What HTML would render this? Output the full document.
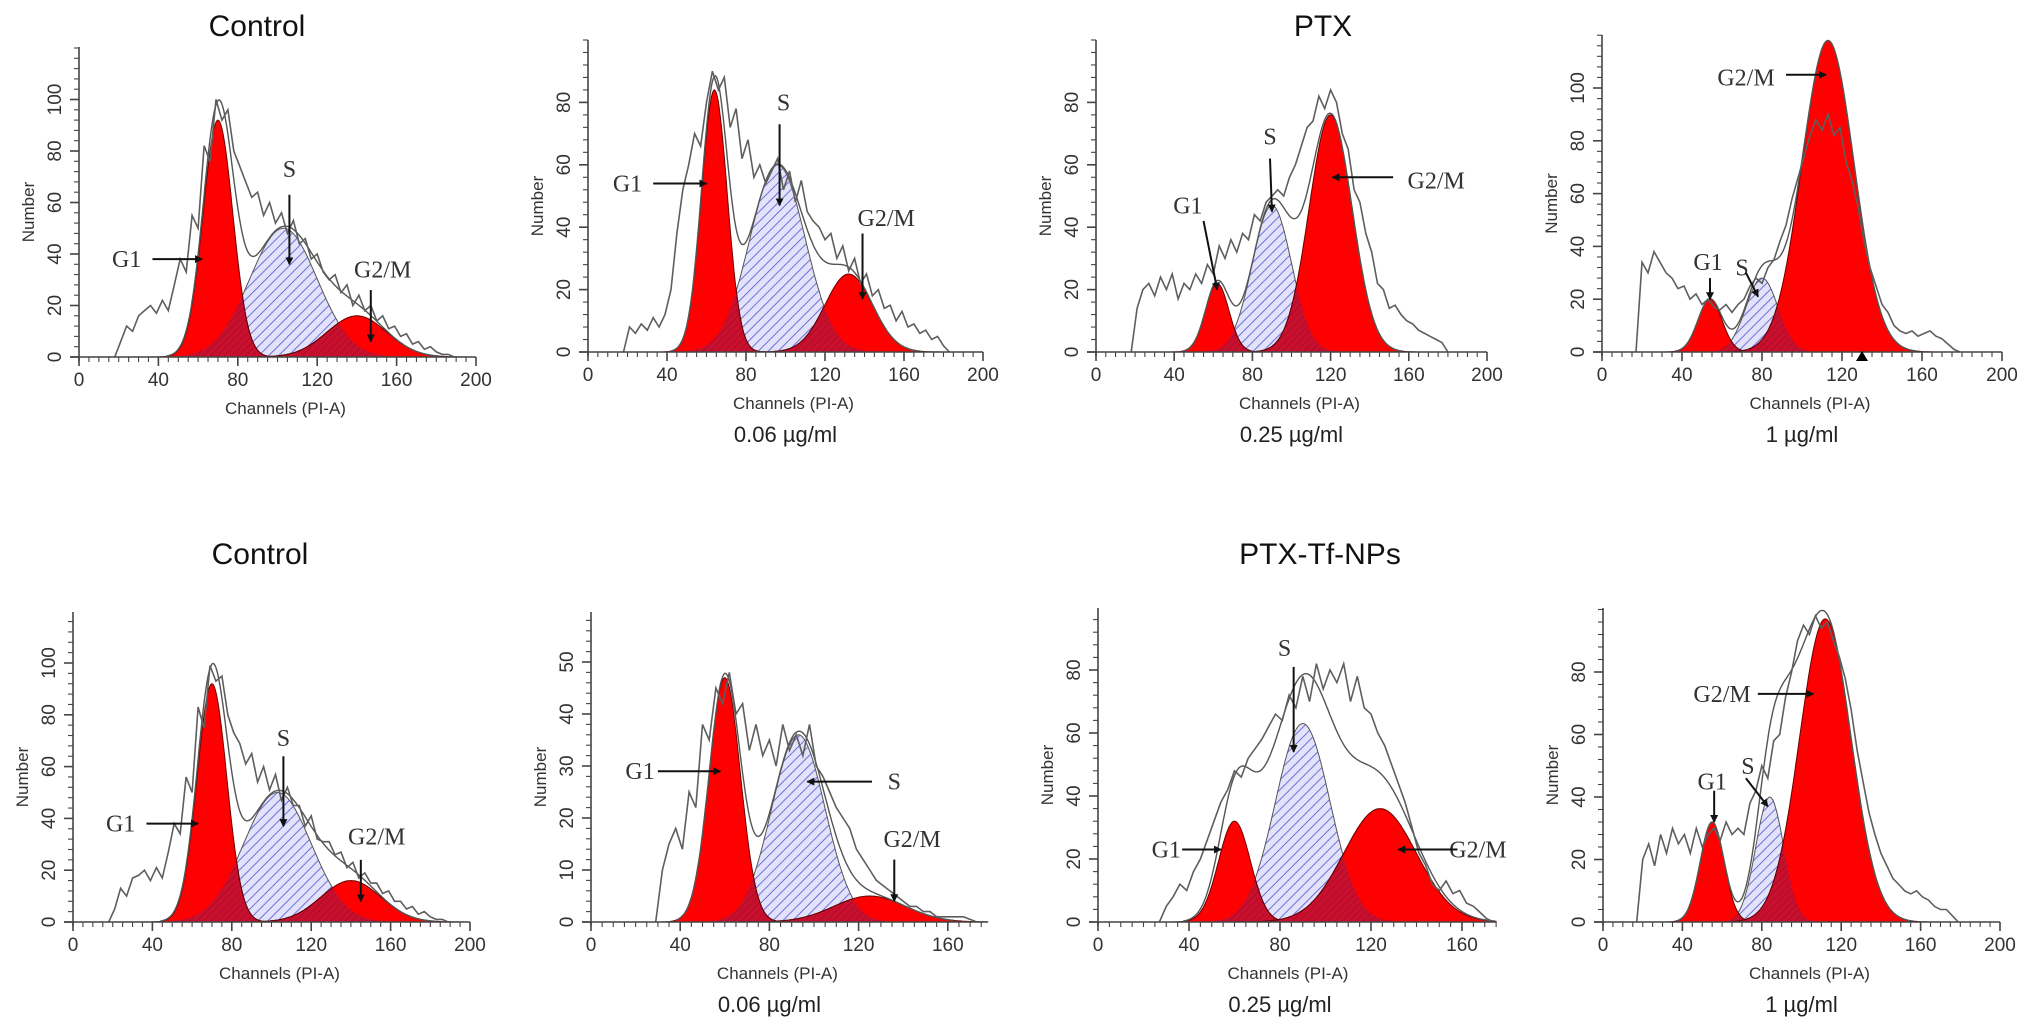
<!DOCTYPE html>
<html><head><meta charset="utf-8"><title>Cell cycle histograms</title>
<style>
html,body{margin:0;padding:0;background:#fff;}
svg{display:block;}
.tick{font-family:"Liberation Sans",sans-serif;font-size:19px;fill:#333;}
.axt{font-family:"Liberation Sans",sans-serif;font-size:17px;fill:#333;}
.sub{font-family:"Liberation Sans",sans-serif;font-size:22px;fill:#222;}
.ttl{font-family:"Liberation Sans",sans-serif;font-size:30px;fill:#111;}
.ann{font-family:"Liberation Serif",serif;font-size:24px;fill:#333;}
</style></head>
<body>
<svg id="fig" width="2031" height="1028" viewBox="0 0 2031 1028" xmlns="http://www.w3.org/2000/svg">
<defs>
<pattern id="hatchS" patternUnits="userSpaceOnUse" width="7" height="7" patternTransform="rotate(45)">
<rect width="7" height="7" fill="#e2e2fa"/><line x1="0" y1="0" x2="0" y2="7" stroke="#6f6fd8" stroke-width="2"/></pattern>
<pattern id="hatchR" patternUnits="userSpaceOnUse" width="5" height="5" patternTransform="rotate(45)">
<rect width="5" height="5" fill="#c8102e"/><line x1="0" y1="0" x2="0" y2="5" stroke="#a00826" stroke-width="1.2"/></pattern>
<marker id="arr" markerWidth="8" markerHeight="8" refX="7" refY="4" orient="auto" markerUnits="userSpaceOnUse">
<path d="M0,0 L8,4 L0,8 z" fill="#111"/></marker>
</defs>
<text class="ttl" x="257" y="36" text-anchor="middle">Control</text>
<text class="ttl" x="1323" y="36" text-anchor="middle">PTX</text>
<text class="ttl" x="260" y="564" text-anchor="middle">Control</text>
<text class="ttl" x="1320" y="564" text-anchor="middle">PTX-Tf-NPs</text>
</svg>
<script>
// ---- Data ----
const histStep = 3;
const p1HistStart = 18;
const p1Hist = [0,6,12,10,16,18,20,17,22,18,28,38,33,55,50,82,76,100,92,96,80,74,68,62,64,55,60,52,56,48,53,44,46,38,40,33,30,32,25,28,20,24,18,20,14,16,11,12,8,9,5,6,3,4,2,1,1,0];
const p1Phases = [[70,7.5,92],[103,17,50],[140,15,16]];
const p2HistStart = 18;
const p2Hist = [0,8,6,9,7,11,8,12,20,38,52,60,70,66,80,90,84,88,72,78,62,68,56,60,54,58,62,52,58,48,55,45,42,40,36,38,30,34,26,30,22,25,18,20,14,15,10,13,8,9,6,7,4,5,2,0];
const p2Phases = [[64,6.5,84],[96,14,60],[132,12,25]];
const p3HistStart = 18;
const p3Hist = [0,14,20,22,18,24,20,25,17,22,20,25,22,28,25,34,30,36,32,38,36,44,42,48,50,52,50,56,60,66,72,74,82,78,84,80,70,65,52,48,38,32,22,20,14,15,12,10,9,7,6,5,4,3,0];
const p3Phases = [[62,6,22],[90,10,47],[120,11,76]];
const p4HistStart = 17;
const p4Hist = [0,34,30,38,34,30,28,24,25,20,22,18,20,17,16,18,15,18,20,25,28,26,32,35,42,48,58,66,74,82,88,84,90,82,85,72,65,55,42,32,25,18,15,10,8,7,8,6,7,8,6,5,3,1,0];
const p4Phases = [[54,6,20],[80,8,28],[113,13,118]];
const p5HistStart = 18;
const p5Hist = [0,5,13,10,17,18,20,16,21,17,27,38,34,56,50,83,75,99,93,95,80,73,69,61,65,54,60,51,57,47,52,45,45,37,41,32,31,31,26,27,21,23,17,19,15,15,11,12,8,8,5,6,3,4,2,1,1,0];
const p5Phases = [[70,7.5,92],[103,17,50],[140,15,16]];
const p6HistStart = 29;
const p6Hist = [0,10,15,18,14,25,22,38,35,45,42,48,40,42,33,38,32,35,30,38,33,36,32,38,30,28,25,22,20,18,14,12,10,8,7,6,5,4,3,3,2,2,1,1,1,1,1,0.5,0];
const p6Phases = [[60,7,47],[93,12,36],[125,16,5]];
const p7HistStart = 27;
const p7Hist = [0,5,8,12,10,16,20,26,32,38,42,48,46,52,55,58,62,66,64,72,68,78,70,82,74,80,76,82,70,78,68,66,60,56,50,44,38,30,22,18,12,10,13,9,10,6,5,3,1,0];
const p7Phases = [[60,7,32],[90,12,63],[124,16,36]];
const p7Extra = [[108,20,14],[70,10,18]];
const p8HistStart = 17;
const p8Hist = [0,20,25,18,28,22,30,25,28,22,30,24,28,30,26,32,28,30,28,38,42,50,46,58,60,72,80,90,95,92,98,94,96,90,85,78,68,55,45,35,28,22,18,14,12,10,9,10,8,7,5,4,4,2,0];
const p8Phases = [[55,6,32],[84,7,40],[112,13,97]];
const p8Extra = [[94,8,28]];
const xTicks200 = [0,40,80,120,160,200];
const xTicks160 = [0,40,80,120,160];
const yTicks100 = [0,20,40,60,80,100];
const yTicks80 = [0,20,40,60,80];
const yTicks50 = [0,10,20,30,40,50];
const subLabels = ["0.06 µg/ml","0.25 µg/ml","1 µg/ml"];

// ---- Layout (pixel geometry, not data) ----
const panels = [
 {n:1,ax:79, xs:1.985,y0:357,ys:2.575,top:47, xMax:200,xT:xTicks200,yT:yTicks100,yMinor:4,hist:p1Hist,hs:p1HistStart,ph:p1Phases,ex:[],sub:null,
  ann:[["G1",24,38,37,38,62,38],["S",106,73,106,63,106,36],["G2/M",153,34,147,26,147,6]]},
 {n:2,ax:588,xs:1.975,y0:352,ys:3.12,top:40, xMax:200,xT:xTicks200,yT:yTicks80,yMinor:4,hist:p2Hist,hs:p2HistStart,ph:p2Phases,ex:[],sub:subLabels[0],
  ann:[["G1",20,54,33,54,60,54],["S",99,80,97,73,97,47],["G2/M",151,43,139,38,139,17]]},
 {n:3,ax:1096,xs:1.955,y0:352,ys:3.12,top:40,xMax:200,xT:xTicks200,yT:yTicks80,yMinor:4,hist:p3Hist,hs:p3HistStart,ph:p3Phases,ex:[],sub:subLabels[1],
  ann:[["G1",47,47,55,42,62,20],["S",89,69,89,62,90,45],["G2/M",174,55,152,56,121,56]]},
 {n:4,ax:1602,xs:2.0,y0:352,ys:2.64,top:35, xMax:200,xT:xTicks200,yT:yTicks100,yMinor:4,hist:p4Hist,hs:p4HistStart,ph:p4Phases,ex:[],sub:subLabels[2],marker:130,
  ann:[["G2/M",72,104,92,105,112,105],["G1",53,34,54,28,54,20],["S",70,32,72,30,78,21]]},
 {n:5,ax:73, xs:1.985,y0:922,ys:2.59,top:612,xMax:200,xT:xTicks200,yT:yTicks100,yMinor:4,hist:p5Hist,hs:p5HistStart,ph:p5Phases,ex:[],sub:null,
  ann:[["G1",24,38,37,38,63,38],["S",106,71,106,64,106,37],["G2/M",153,33,145,24,145,8]]},
 {n:6,ax:591,xs:2.23,y0:922,ys:5.2,top:612, xMax:178,xT:xTicks160,yT:yTicks50,yMinor:2,hist:p6Hist,hs:p6HistStart,ph:p6Phases,ex:[],sub:subLabels[0],
  ann:[["G1",22,29,30,29,58,29],["S",136,27,126,27,97,27],["G2/M",144,16,136,12,136,4]]},
 {n:7,ax:1098,xs:2.275,y0:922,ys:3.15,top:608,xMax:175,xT:xTicks160,yT:yTicks80,yMinor:4,hist:p7Hist,hs:p7HistStart,ph:p7Phases,ex:p7Extra,sub:subLabels[1],
  ann:[["S",82,87,86,81,86,54],["G1",30,23,37,23,54,23],["G2/M",167,23,158,23,132,23]]},
 {n:8,ax:1603,xs:1.985,y0:922,ys:3.125,top:608,xMax:200,xT:xTicks200,yT:yTicks80,yMinor:4,hist:p8Hist,hs:p8HistStart,ph:p8Phases,ex:p8Extra,sub:subLabels[2],
  ann:[["G2/M",60,73,78,73,106,73],["G1",55,45,56,42,56,32],["S",73,50,72,46,83,37]]}
];

const NS="http://www.w3.org/2000/svg";
const svg=document.getElementById('fig');
function mk(tag,attrs,parent){const e=document.createElementNS(NS,tag);for(const k in attrs)e.setAttribute(k,attrs[k]);(parent||svg).appendChild(e);return e;}
function gauss(x,p){const z=(x-p[0])/p[1];return p[2]*Math.exp(-0.5*z*z);}

panels.forEach(P=>{
  const X=v=>P.ax+v*P.xs, Y=v=>P.y0-v*P.ys;
  const g=mk('g',{});
  
  
  const cid='clip'+P.n;
  const cp=mk('clipPath',{id:cid},g);
  mk('rect',{x:P.ax,y:P.top,width:P.xMax*P.xs+4,height:P.y0-P.top},cp);
  const plot=mk('g',{'clip-path':'url(#'+cid+')'},g);
  
  
  function compPts(p){const a=Math.max(0,p[0]-4*p[1]),b=Math.min(P.xMax,p[0]+4*p[1]);let s=[[X(a),Y(0)]];for(let c=a;c<=b;c+=0.5)s.push([X(c),Y(gauss(c,p))]);s.push([X(b),Y(0)]);return s.map(q=>q[0].toFixed(1)+','+q[1].toFixed(1)).join(' ');}
  const names=['g1-phase','s-phase','g2m-phase'];
  const sPts=compPts(P.ph[1]);
  const sPoly=mk('polygon',{points:sPts,fill:'url(#hatchS)',stroke:'#555','stroke-width':1},plot);
  
  
  [0,2].forEach(i=>{const r=mk('polygon',{points:compPts(P.ph[i]),fill:'#ff0000',stroke:'#6a0000','stroke-width':1},plot);
    
    });
  const oc=mk('clipPath',{id:'ov'+P.n},g);
  mk('polygon',{points:sPts},oc);
  const ov=mk('g',{'clip-path':'url(#ov'+P.n+')'},plot);
  
  
  [0,2].forEach(i=>{mk('polygon',{points:compPts(P.ph[i]),fill:'url(#hatchR)',stroke:'#5a0000','stroke-width':1},ov);});
  let env=[];for(let c=0;c<=P.xMax;c+=0.5){let v=gauss(c,P.ph[0])+gauss(c,P.ph[1])+gauss(c,P.ph[2]);P.ex.forEach(e=>{v+=gauss(c,e);});if(v>0.3)env.push(X(c).toFixed(1)+','+Y(v).toFixed(1));}
  const envL=mk('polyline',{points:env.join(' '),fill:'none',stroke:'#555','stroke-width':1.4},plot);
  
  
  const hp=P.hist.map((v,i)=>X(P.hs+i*histStep).toFixed(1)+','+Y(v).toFixed(1)).join(' ');
  const hl=mk('polyline',{points:hp,fill:'none',stroke:'#5e5e5e','stroke-width':1.6},plot);
  
  
  const ax=mk('g',{stroke:'#444','stroke-width':1.6},g);
  
  
  mk('line',{x1:P.ax,y1:P.top,x2:P.ax,y2:P.y0+4},ax);
  mk('line',{x1:P.ax-9,y1:P.y0,x2:X(P.xMax),y2:P.y0},ax);
  for(let v=0;v<=P.xMax;v+=5){const maj=v%40===0;mk('line',{x1:X(v),y1:P.y0,x2:X(v),y2:P.y0+(maj?9:5),'stroke-width':maj?1.6:1.1},ax);}
  const yMaxV=(P.y0-P.top)/P.ys;
  for(let v=0;v<=yMaxV;v+=P.yMinor){const maj=P.yT.indexOf(v)>=0;mk('line',{x1:P.ax-(maj?9:5),y1:Y(v),x2:P.ax,y2:Y(v),'stroke-width':maj?1.6:1.1},ax);}
  P.xT.forEach(v=>{const t=mk('text',{class:'tick',x:X(v),y:P.y0+29,'text-anchor':'middle'},g);t.textContent=v;
    
    });
  P.yT.forEach(v=>{const t=mk('text',{class:'tick','text-anchor':'middle',transform:'translate('+(P.ax-18)+','+Y(v)+') rotate(-90)'},g);t.textContent=v;
    
    });
  const midX=(X(0)+X(P.xT[P.xT.length-1]))/2;
  const xt=mk('text',{class:'axt',x:midX+8,y:P.y0+57,'text-anchor':'middle'},g);xt.textContent='Channels (PI-A)';
  
  
  const yt=mk('text',{class:'axt','text-anchor':'middle',transform:'translate('+(P.ax-45)+','+((P.y0+P.top)/2+10)+') rotate(-90)'},g);yt.textContent='Number';
  
  
  if(P.sub){const s=mk('text',{class:'sub',x:midX,y:P.y0+90,'text-anchor':'middle'},g);s.textContent=P.sub;
    
    }
  if(P.marker){const m=mk('path',{d:'M'+X(P.marker)+','+(P.y0-1)+' l-6,10 l12,0 z',fill:'#000'},g);
    
    }
  P.ann.forEach(a=>{
    const t=mk('text',{class:'ann',x:X(a[1]),y:Y(a[2])+8,'text-anchor':'middle'},g);t.textContent=a[0];
    
    
    const l=mk('line',{x1:X(a[3]),y1:Y(a[4]),x2:X(a[5]),y2:Y(a[6]),stroke:'#111','stroke-width':2,'marker-end':'url(#arr)'},g);
    
    
  });
});
</script>
</body></html>
